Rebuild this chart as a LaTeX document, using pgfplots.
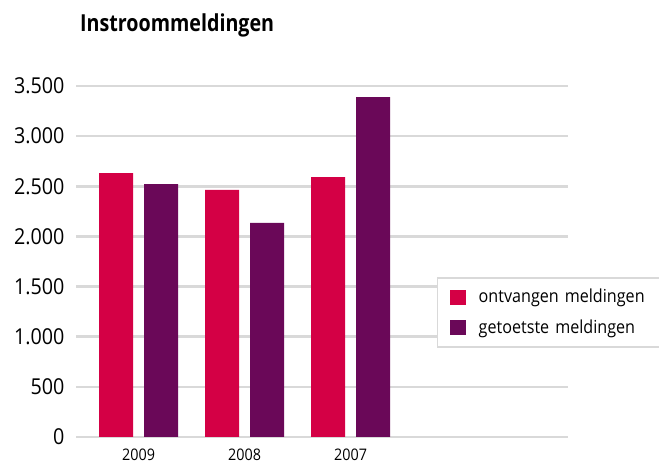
\documentclass[border=0pt]{standalone}
\usepackage{fontspec}
\usepackage{pgfplots}
\pgfplotsset{compat=1.18}
\newfontfamily\tickfont[FakeStretch=0.9]{Open Sans}
\newfontfamily\titlefont[FakeStretch=0.84]{Open Sans Bold}
\setmainfont[FakeStretch=0.9]{Open Sans}
\definecolor{cred}{RGB}{212,0,69}
\definecolor{cpurple}{RGB}{106,8,88}
\definecolor{gridgray}{RGB}{217,217,217}
\begin{document}
\begin{tikzpicture}[x=1bp,y=1bp]
\useasboundingbox (0,0) rectangle (659,468);
\node[anchor=base west, inner sep=0pt, font={\titlefont\fontsize{23.5}{27}\selectfont}] at (80,436) {Instroommeldingen};
\begin{axis}[
  at={(76bp,31bp)}, anchor=south west,
  scale only axis, width=492bp, height=351bp,
  ybar,
  xmin=-0.59, xmax=4.05, ymin=0, ymax=3500,
  xtick={0,1,2}, xticklabels={2009,2008,2007},
  ytick={0,500,1000,1500,2000,2500,3000,3500},
  ymajorgrids, grid style={gridgray, line width=2.5bp},
  axis line style={draw=none},
  major tick length=0pt,
  /pgf/number format/assume math mode=true,
  /pgf/number format/1000 sep={.},
  yticklabel style={font={\tickfont\fontsize{22}{26}\selectfont}, xshift=-8bp},
  xticklabel style={font={\tickfont\fontsize{16}{19}\selectfont}, yshift=-8bp},
  legend style={at={(0.7337,0.4558)}, anchor=north west, draw=gridgray, line width=1.5bp, fill=white,
    inner xsep=12bp, inner ysep=8bp, row sep=8bp,
    font={\tickfont\fontsize{18}{21}\selectfont},
    nodes={inner sep=3bp, text depth=3bp},
    /tikz/every odd column/.append style={column sep=10bp},
    /tikz/every even column/.append style={text width=185bp}},
  legend cell align=left,
  legend image code/.code={\fill[#1, draw=none] (0bp,-7.5bp) rectangle (16bp,7.5bp);},
]
\addplot[fill=cred, draw=none, bar width=34bp, bar shift=-22.5bp] coordinates {(0,2632) (1,2463) (2,2592)};
\addplot[fill=cpurple, draw=none, bar width=34bp, bar shift=22.5bp] coordinates {(0,2522) (1,2134) (2,3390)};
\legend{ontvangen meldingen, getoetste meldingen}
\end{axis}
\end{tikzpicture}
\end{document}
